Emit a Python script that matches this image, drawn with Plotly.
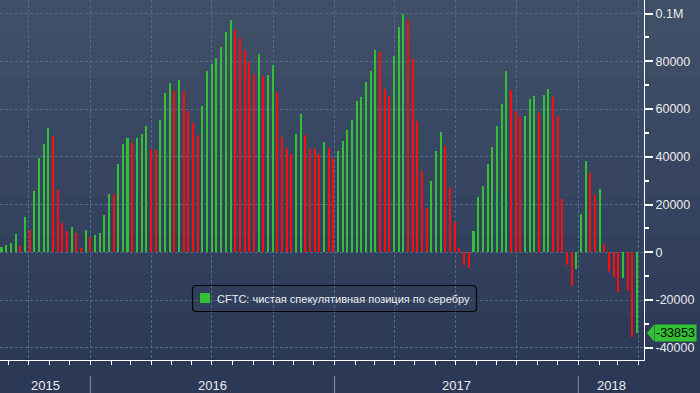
import pandas as pd
import plotly.graph_objects as go

# ---- data (weekly CFTC net speculative position in silver, contracts) ----
start_date = "2015-08-21"
net_position = [
    2200, 3070, 3900, 7700, 2800, 14800, 9500, 25700, 39500, 45400,
    52100, 48900, 26100, 12300, 8900, 10600, 8100, 2000, 9350, 6400,
    7260, 8100, 15600, 24400, 24300, 37000, 45400, 47900, 45600, 47900,
    49600, 52900, 43300, 42900, 55400, 66700, 70900, 67600, 72200, 67600,
    59200, 54200, 49100, 61300, 75900, 78900, 81400, 86000, 92300, 97300,
    93100, 89800, 84700, 79700, 74700, 83100, 73800, 74300, 78500, 67100,
    48300, 43700, 41200, 49600, 57900, 49100, 43300, 43200, 41200, 46200,
    43700, 39500, 42400, 46600, 51200, 55400, 63400, 65100, 71300, 75900,
    84700, 83900, 68400, 65500, 82200, 94400, 99800, 97300, 81000, 55000,
    34100, 18600, 29900, 42400, 50400, 44500, 26900, 12700, 1800, -5300,
    -6400, 8900, 23200, 27800, 37000, 44100, 52900, 62100, 75900, 68000,
    59200, 56700, 57100, 64200, 65500, 58400, 65900, 68400, 65100, 57100,
    22300, -5300, -14100, -7000, 16100, 38300, 33200, 24000, 26500, 3500,
    -7800, -10300, -16600, -10700, -16200, -35500, -33853,
]
dates = pd.date_range(start=start_date, periods=len(net_position), freq="7D")

y_tick_values = [-40000, -20000, 0, 20000, 40000, 60000, 80000, 100000]
y_tick_labels = ["-40000", "-20000", "0", "20000", "40000", "60000", "80000", "0.1M"]
year_labels = ["2015", "2016", "2017", "2018"]
year_starts = ["2016-01-01", "2017-01-01", "2018-01-01"]
series_name = "CFTC: чистая спекулятивная позиция по серебру"
last_label = "-33853"

# ---- styling ----
GREEN = "#33c133"
RED = "#ff0d0d"
GRID = "#4f6b88"
TXT = "#ececec"
X_RANGE = [pd.Timestamp("2015-08-18 17:00"), pd.Timestamp("2018-04-09 10:00")]
PW, PH = 644.0, 360.0  # plot area size in px


def px(xp):
    return xp / PW


def py(yp):
    return (PH - yp) / PH


colors = []
prev = None
for v in net_position:
    colors.append(GREEN if (prev is None or v >= prev) else RED)
    prev = v

fig = go.Figure()
fig.add_trace(go.Bar(
    x=dates, y=net_position, name=series_name,
    marker=dict(color=colors, line=dict(width=0)),
    width=3 * 86400000, showlegend=False,
))

# background gradient bands (top lighter -> bottom darker)
top = (64, 79, 104)
bot = (43, 57, 87)
n = 10
for i in range(n):
    f = i / (n - 1)
    c = tuple(round(top[k] + (bot[k] - top[k]) * f) for k in range(3))
    y1 = 1 - i * (393 / PH) / n
    y0 = 1 - (i + 1) * (393 / PH) / n
    fig.add_shape(type="rect", xref="paper", yref="paper",
                  x0=0, x1=700 / PW, y0=y0 - 0.002, y1=y1,
                  fillcolor="rgb(%d,%d,%d)" % c, line=dict(width=0), layer="below")

# year separators below the axis
for d in year_starts:
    fig.add_shape(type="line", xref="x", yref="paper", x0=d, x1=d,
                  y0=py(376), y1=py(393),
                  line=dict(color="#8d939e", width=1))

# year labels centred in their visible span
bounds = [X_RANGE[0]] + [pd.Timestamp(d) for d in year_starts] + [X_RANGE[1]]
for i, lab in enumerate(year_labels):
    mid = bounds[i] + (bounds[i + 1] - bounds[i]) / 2
    fig.add_annotation(x=mid, y=py(385), xref="x", yref="paper",
                       text=lab, showarrow=False, yanchor="middle",
                       font=dict(color=TXT, size=13))

# legend box (drawn by hand to match the rounded, compact original)
lx0, lx1, ly0, ly1, r = 192.5, 476.5, 285.5, 311.5, 4
legend_path = (
    "M %f,%f L %f,%f Q %f,%f %f,%f L %f,%f Q %f,%f %f,%f L %f,%f Q %f,%f %f,%f L %f,%f Q %f,%f %f,%f Z" % (
        px(lx0 + r), py(ly0), px(lx1 - r), py(ly0),
        px(lx1), py(ly0), px(lx1), py(ly0 + r),
        px(lx1), py(ly1 - r),
        px(lx1), py(ly1), px(lx1 - r), py(ly1),
        px(lx0 + r), py(ly1),
        px(lx0), py(ly1), px(lx0), py(ly1 - r),
        px(lx0), py(ly0 + r),
        px(lx0), py(ly0), px(lx0 + r), py(ly0),
    )
)
fig.add_shape(type="path", xref="paper", yref="paper", path=legend_path,
              line=dict(color="#000000", width=1.2), fillcolor="rgba(0,0,0,0)")
fig.add_shape(type="rect", xref="paper", yref="paper",
              x0=px(200), x1=px(210), y0=py(303), y1=py(293),
              fillcolor=GREEN, line=dict(width=0))
fig.add_annotation(x=px(215), y=py(298.5), xref="paper", yref="paper",
                   text=series_name, showarrow=False, xanchor="left", yanchor="middle",
                   font=dict(color=TXT, size=11))

# last value marker on the axis
last_v = net_position[-1]
half = 8.3 / 47.75 * 20000
fig.add_shape(type="path", xref="paper", yref="y",
              path="M %f,%f L %f,%f L %f,%f Z" % (px(647), last_v, px(654), last_v + half,
                                                  px(654), last_v - half),
              fillcolor=GREEN, line=dict(width=0))
fig.add_annotation(x=px(653.5), y=last_v, xref="paper", yref="y", text=last_label,
                   showarrow=False, xanchor="left", yanchor="middle",
                   bgcolor=GREEN, borderpad=1,
                   font=dict(color="#000000", size=12.5))

fig.update_layout(
    width=700, height=393,
    margin=dict(l=0, r=56, t=0, b=33),
    paper_bgcolor="rgb(43,57,87)",
    plot_bgcolor="rgba(0,0,0,0)",
    font=dict(family="Liberation Sans, Arial, sans-serif", color=TXT, size=12.5),
    bargap=0,
    showlegend=False,
    xaxis=dict(
        type="date", range=X_RANGE, showline=True, linecolor="#ffffff", linewidth=1,
        showgrid=True, gridcolor=GRID, griddash="3px,2px", gridwidth=1,
        tick0="2015-10-01", dtick="M3", ticks="outside", ticklen=4,
        tickcolor="#ffffff", showticklabels=False,
        minor=dict(tick0="2015-09-01", dtick="M1", ticks="outside", ticklen=4,
                   tickcolor="#ffffff", showgrid=False),
        zeroline=False, fixedrange=True,
    ),
    yaxis=dict(
        side="right", range=[-45110, 105680], showline=True, linecolor="#ffffff",
        linewidth=1, showgrid=True, gridcolor=GRID, griddash="3px,2px",
        tickmode="array", tickvals=y_tick_values, ticktext=y_tick_labels,
        ticks="outside", ticklen=8, tickwidth=1.5, tickcolor="#ffffff",
        minor=dict(dtick=10000, ticks="outside", ticklen=4, tickcolor="#ffffff",
                   showgrid=False),
        zeroline=False, tickfont=dict(color=TXT, size=12.5), fixedrange=True,
    ),
)

fig.write_html("out.html", config={"displayModeBar": False},
               post_script="document.body.style.margin='0';document.body.style.overflow='hidden';")
